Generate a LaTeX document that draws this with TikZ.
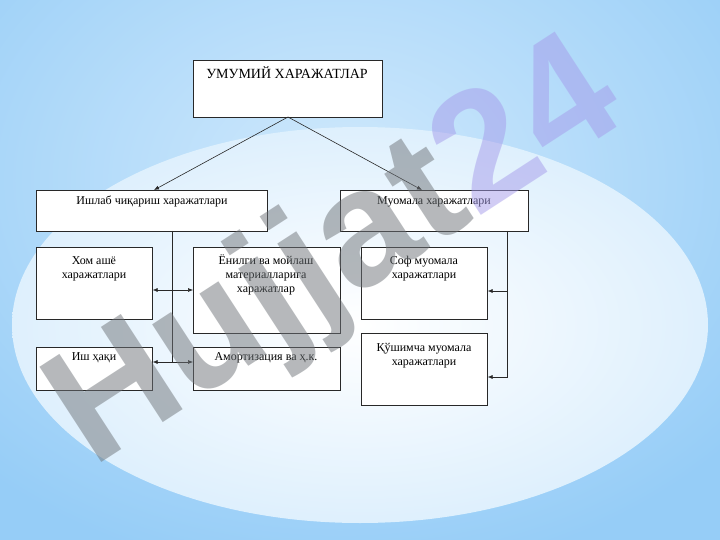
\documentclass[tikz,border=0pt]{standalone}
\usepackage{fontspec}
\setmainfont{Liberation Serif}
\newfontfamily\wmfont{Liberation Sans}
\usetikzlibrary{arrows.meta}
\definecolor{bgblue}{RGB}{150,205,247}
\definecolor{bglight}{RGB}{208,233,252}
\definecolor{lineclr}{RGB}{40,40,40}
\definecolor{wmgrey}{RGB}{110,115,120}
\definecolor{wmpurple}{RGB}{165,155,235}
\begin{document}
\begin{tikzpicture}[x=1pt,y=-1pt,
  box/.style={draw=lineclr, line width=0.6pt, fill=white, minimum width=#1, anchor=north west, inner sep=0pt},
  txt/.style={anchor=base, align=center, font=\fontsize{12}{14}\selectfont, inner sep=0pt},
  arr/.style={-{Latex[length=5pt,width=4pt]}, draw=lineclr, line width=0.6pt},
  darr/.style={{Latex[length=5pt,width=4pt]}-{Latex[length=5pt,width=4pt]}, draw=lineclr, line width=0.6pt},
  ln/.style={draw=lineclr, line width=0.6pt}]
\useasboundingbox (0,0) rectangle (720,540);
\fill[bgblue] (0,0) rectangle (720,540);
\shade[inner color=bglight, outer color=bgblue] (340,180) ellipse (520 and 400);
\shade[inner color=white, outer color=bglight!70!white] (360,325) ellipse (348 and 198);

% boxes
\node[box=189pt, minimum height=57pt] (top) at (193,60) {};
\node[box=231pt, minimum height=41pt] (ish) at (36,190) {};
\node[box=188pt, minimum height=41pt] (muo) at (340,190) {};
\node[box=116pt, minimum height=72pt] (xom) at (36,247) {};
\node[box=147pt, minimum height=86pt] (yen) at (193,247) {};
\node[box=126pt, minimum height=72pt] (sof) at (361,247) {};
\node[box=126pt, minimum height=72pt] (qus) at (361,333) {};
\node[box=116pt, minimum height=43pt] (ishh) at (36,347) {};
\node[box=147pt, minimum height=43pt] (amo) at (193,347) {};

% texts (anchor = baseline of last line)
\node[txt, font=\fontsize{14}{16}\selectfont] (ttop) at (287,79) {УМУМИЙ ХАРАЖАТЛАР};
\node[txt] (tish) at (152,205) {Ишлаб чиқариш харажатлари};
\node[txt] (tmuo) at (434,205) {Муомала харажатлари};
\node[txt] (txom) at (94,278) {Хом ашё\\харажатлари};
\node[txt] (tyen) at (266,292) {Ёнилги ва мойлаш\\материалларига\\харажатлар};
\node[txt] (tsof) at (424,278) {Соф муомала\\харажатлари};
\node[txt] (tqus) at (424,365) {Қўшимча муомала\\харажатлари};
\node[txt] (tishh) at (94,360) {Иш ҳақи};
\node[txt] (tamo) at (266,360) {Амортизация ва ҳ.к.};

% connectors
\coordinate (tb) at (288,117);
\draw[arr] (tb) -- (154,190);
\draw[arr] (tb) -- (422,190);
\coordinate (lv) at (172.5,231);
\coordinate (lvend) at (172.5,362);
\draw[ln] (lv) -- (lvend);
\draw[darr] (xom.east |- 0,290) -- (yen.west |- 0,290);
\draw[darr] (ishh.east |- 0,362) -- (amo.west |- 0,362);
\coordinate (rv) at (507.5,231);
\coordinate (rvend) at (507.5,377);
\draw[ln] (rv) -- (rvend);
\draw[arr] (rvend) -- (qus.east |- rvend);
\draw[arr] (507.5,291) -- (sof.east |- 0,291);

% watermark
\begin{scope}[opacity=0.5]
\node[font=\wmfont\bfseries\fontsize{165}{165}\selectfont, rotate=33, inner sep=0pt] (wm) at (338,258)
  {\textcolor{wmgrey}{Hujjat}\textcolor{wmpurple}{24}};
\end{scope}
\end{tikzpicture}
\end{document}
